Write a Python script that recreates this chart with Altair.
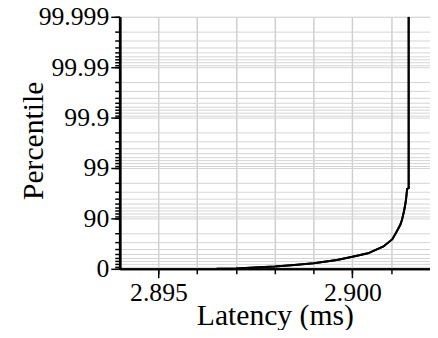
import altair as alt
import numpy as np
import pandas as pd

# Latency CDF readings (ms, percentile)
latency_ms = [2.8965, 2.8970, 2.8976, 2.8980, 2.8985, 2.8990, 2.8996, 2.9000,
              2.9004, 2.9008, 2.90103, 2.90115, 2.90124, 2.90128, 2.90133,
              2.90137, 2.90139, 2.90141, 2.90145, 2.90145]
percentile = [0.0, 1.5, 6.5, 9.8, 15.9, 22.7, 33.3, 42.6,
              50.8, 64.1, 74.2, 82.3, 86.9, 89.5, 92.8,
              95.1, 96.3, 97.4, 97.5, 99.999]

# Axis ticks
x_ticks = [2.895, 2.896, 2.897, 2.898, 2.899, 2.900, 2.901]
x_major = [2.895, 2.900]
y_major_labels = ["0", "90", "99", "99.9", "99.99", "99.999"]
minor_fracs = [10, 20, 30, 40, 50, 60, 70, 80]


def nines(p):
    return -np.log10(1.0 - np.asarray(p, dtype=float) / 100.0)


df = pd.DataFrame({
    "latency": latency_ms,
    "nines": nines(percentile),
    "idx": list(range(len(latency_ms))),
})

y_major = [float(d) for d in range(len(y_major_labels))]
y_ticks = []
for d in range(len(y_major_labels) - 1):
    y_ticks.append(float(d))
    for f in minor_fracs:
        y_ticks.append(float(d + nines(f)))
y_ticks.append(float(len(y_major_labels) - 1))

y_lbl = "[" + ",".join([f"'{s}'" for s in y_major_labels]) + "]"

FONT = "Liberation Serif"
common = dict(
    domainColor="black", tickColor="black", tickWidth=1.5,
    labelFont=FONT, labelFontSize=26, labelColor="black",
    labelFlush=False, labelOverlap=False,
    titleFont=FONT, titleFontSize=30, titleFontWeight="normal", titleColor="black",
)

x_scale = alt.Scale(domain=[2.894, 2.902], nice=False, zero=False)
y_scale = alt.Scale(domain=[0, 5], nice=False)

# major axes (labels + long ticks)
x_axis_major = alt.Axis(
    orient="bottom", values=x_major, title="Latency (ms)", format=".3f",
    tickSize=9, grid=False, domainWidth=2, labelPadding=2,
    titleBaseline="alphabetic", titleY=56, **common,
)
y_axis_major = alt.Axis(
    orient="left", values=y_major, title="Percentile",
    labelExpr=f"{y_lbl}[round(datum.value)]",
    tickSize=9, grid=False, domainWidth=2.5, labelPadding=2,
    titleBaseline="alphabetic", titleX=-78, titleY=125, **common,
)

# minor axes (grid + short ticks, no labels)
x_axis_minor = alt.Axis(
    orient="bottom", values=x_ticks, title=None, labels=False,
    tickSize=5, grid=True, gridColor="#cfcfcf", gridWidth=1.5, domainWidth=2,
    **{k: v for k, v in common.items() if not k.startswith("title")},
)
y_axis_minor = alt.Axis(
    orient="left", values=y_ticks, title=None, labels=False,
    tickSize=5, grid=True, gridColor="#d4d4d4", gridWidth=1, domainWidth=2.5,
    **{k: v for k, v in common.items() if not k.startswith("title")},
)

base = alt.Chart(df)

minor_layer = base.mark_line(color="black", strokeWidth=2, clip=True).encode(
    x=alt.X("latency:Q", scale=x_scale, axis=x_axis_minor),
    y=alt.Y("nines:Q", scale=y_scale, axis=y_axis_minor),
    order="idx:Q",
)

major_layer = base.mark_line(color="black", strokeWidth=2, clip=True).encode(
    x=alt.X("latency:Q", scale=x_scale, axis=x_axis_major),
    y=alt.Y("nines:Q", scale=y_scale, axis=y_axis_major),
    order="idx:Q",
)

chart = alt.layer(minor_layer, major_layer).resolve_axis(
    x="independent", y="independent"
).properties(
    width=314,
    height=255,
    autosize=alt.AutoSizeParams(type="none"),
    padding={"left": 113, "top": 7, "right": 0, "bottom": 60},
).configure_view(
    stroke="black", strokeWidth=2,
).configure(background="white")

chart.save("out.html", embed_options={"renderer": "svg", "actions": False})
